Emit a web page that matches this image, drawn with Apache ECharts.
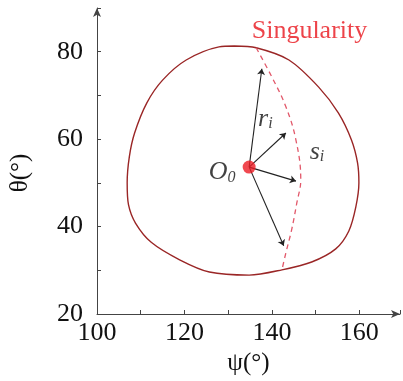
<!DOCTYPE html>
<html>
<head>
<meta charset="utf-8">
<script src="https://cdn.jsdelivr.net/npm/echarts@6/dist/echarts.min.js"></script>
<style>html,body{margin:0;padding:0;background:#fff}#c{width:403px;height:381px}</style>
</head>
<body>
<div id="c"></div>
<script>
// Workspace contour (psi, theta)
const contourPsi   = [131.4,127.9,120.4,115.0,111.4,108.6,107.4,106.9,107.2,108.8,112.4,118.9,125.7,134.8,142.3,149.1,154.6,157.6,159.2,159.9,159.6,158.2,155.2,150.7,143.9,136.4,131.4];
const contourTheta = [81.3,81.1,78.1,73.5,68.3,61.4,56.0,50.0,45.0,40.8,36.4,32.4,29.6,28.9,30.1,31.9,34.9,39.0,44.5,50.0,54.5,59.8,66.0,71.9,78.1,80.9,81.3];
// Singularity curve (dashed)
const singPsi   = [136.4,140.0,143.2,145.5,146.6,145.7,144.5,143.2,142.3];
const singTheta = [80.9,74.2,67.4,59.8,50.7,45.4,39.2,34.0,30.1];
// Center O0 and arrow tips
const origin = [134.8, 53.6];
const tipPsi   = [137.7,143.2,145.5,142.7];
const tipTheta = [76.1,61.4,50.4,35.6];
// Tick labels
const xTicks = [100,120,140,160];
const yTicks = [20,40,60,80];
// Annotations
const notes = [
  {text:'Singularity', pos:[148.6,84.6], kind:'sing'},
  {text:'r_i', pos:[138.5,64.6], kind:'sub'},
  {text:'s_i', pos:[150.3,57.0], kind:'sub'},
  {text:'O_0', pos:[128.6,52.4], kind:'sub'}
];

const serif = "'Liberation Serif', 'Times New Roman', serif";
const zip = (a,b)=>a.map((v,i)=>[v,b[i]]);

const chart = echarts.init(document.getElementById('c'));
const axisCommon = {
  axisLine:{show:true, lineStyle:{color:'#444', width:1}, symbol:['none','arrow'], symbolSize:[6,9]},
  axisTick:{show:true, inside:true, length:4, lineStyle:{color:'#444'}},
  splitLine:{show:false},
  nameLocation:'middle',
  nameTextStyle:{fontFamily:serif, fontSize:25, color:'#111'}
};
chart.setOption({
  animation:false,
  grid:{left:97, right:1, top:8, bottom:67, containLabel:false},
  xAxis:Object.assign({}, axisCommon, {
    type:'value', min:100, max:169.3, interval:10,
    name:'ψ(°)', nameGap:37,
    axisLabel:{fontFamily:serif, fontSize:26, color:'#111', margin:6,
      formatter:v=>xTicks.includes(v)?String(v):''}
  }),
  yAxis:Object.assign({}, axisCommon, {
    type:'value', min:20, max:90, interval:10,
    name:'θ(°)', nameGap:64, nameTextStyle:{fontFamily:serif, fontSize:25, color:'#111', padding:[0,0,0,-24]},
    axisLabel:{fontFamily:serif, fontSize:26, color:'#111', margin:14,
      formatter:v=>yTicks.includes(v)?String(v):''}
  }),
  series:[
    {type:'line', data:zip(contourPsi,contourTheta), smooth:0.3, symbol:'none',
     lineStyle:{color:'#9a2626', width:1.4}},
    {type:'line', data:zip(singPsi,singTheta), smooth:0.4, symbol:'none',
     lineStyle:{color:'#e2586a', width:1.3, type:[5,4]}},
    {type:'lines', coordinateSystem:'cartesian2d', symbol:['none','arrow'], symbolSize:6,
     lineStyle:{color:'#222', width:1.1, opacity:1, curveness:0},
     data:tipPsi.map((p,i)=>({coords:[origin,[p,tipTheta[i]]]}))},
    {type:'scatter', data:[origin], symbolSize:13, itemStyle:{color:'#ec1c24'}, z:5},
    {type:'scatter', symbolSize:0, z:6,
     data:notes.map(n=>({value:n.pos, kind:n.kind, text:n.text})),
     label:{show:true, position:'inside',
       formatter:p=>{
         const d=p.data;
         if(d.kind==='sing') return '{s|'+d.text+'}';
         const parts=d.text.split('_');
         return '{m|'+parts[0]+'}{b|'+parts[1]+'}';
       },
       rich:{
         s:{fontFamily:serif, fontSize:26, color:'#e8141c'},
         m:{fontFamily:serif, fontStyle:'italic', fontSize:26, color:'#111'},
         b:{fontFamily:serif, fontStyle:'italic', fontSize:16, color:'#111', verticalAlign:'bottom', padding:[10,0,0,0]}
       }}}
  ]
});
</script>
</body>
</html>
